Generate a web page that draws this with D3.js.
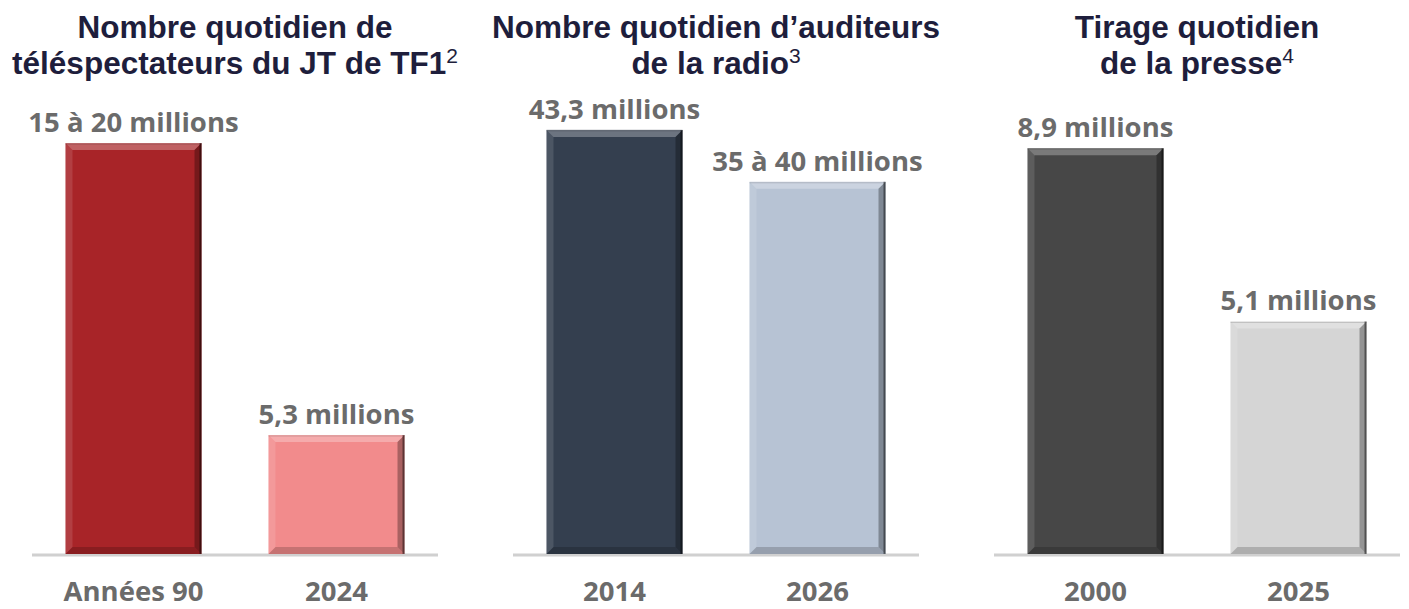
<!DOCTYPE html>
<html>
<head>
<meta charset="utf-8">
<script src="https://cdn.jsdelivr.net/npm/d3@7"></script>
<style>
  html, body { margin: 0; padding: 0; background: #ffffff; }
  svg { display: block; }
</style>
</head>
<body>
<svg id="chart" width="1409" height="609"></svg>
<script>
// ---- Data ----
const titleLines = [
  ["Nombre quotidien de", "téléspectateurs du JT de TF1"],
  ["Nombre quotidien d’auditeurs", "de la radio"],
  ["Tirage quotidien", "de la presse"]
];
const titleNotes = ["2", "3", "4"];
const categories = [
  ["Années 90", "2024"],
  ["2014", "2026"],
  ["2000", "2025"]
];
const values = [
  [18.3, 5.3],
  [43.3, 38.0],
  [8.9, 5.1]
];
const valueLabels = [
  ["15 à 20 millions", "5,3 millions"],
  ["43,3 millions", "35 à 40 millions"],
  ["8,9 millions", "5,1 millions"]
];
const yMax = [19.15, 43.9, 9.43];
const barColors = [
  ["#a82428", "#f28b8c"],
  ["#343f4f", "#b7c3d4"],
  ["#474747", "#d5d5d5"]
];

// ---- Layout ----
const svg = d3.select("#chart");
const panelLeft = [32, 513, 994];
const panelWidth = 406;
const baseY = 554;
const plotH = 430;
const titleColor = "#1e1e3c";
const labelColor = "#6b6b6b";
const bevel = 7;

panelLeft.forEach((px, i) => {
  const g = svg.append("g");
  const x = d3.scaleBand()
    .domain(categories[i])
    .range([px, px + panelWidth])
    .paddingInner(0.33)
    .paddingOuter(0.165);
  const y = d3.scaleLinear().domain([0, yMax[i]]).range([baseY, baseY - plotH]);
  const cx = px + panelWidth / 2;

  // Title
  const t = g.append("text")
    .attr("text-anchor", "middle")
    .attr("font-family", "'Liberation Sans', Arial, sans-serif")
    .attr("font-weight", "bold")
    .attr("font-size", 31.5)
    .attr("fill", titleColor);
  t.append("tspan").attr("x", cx).attr("y", 38).text(titleLines[i][0]);
  t.append("tspan").attr("x", cx).attr("y", 74).text(titleLines[i][1]);
  t.append("tspan")
    .attr("font-weight", "normal")
    .attr("font-size", 21)
    .attr("dy", -11)
    .text(titleNotes[i]);

  // Baseline
  g.append("line")
    .attr("x1", px).attr("x2", px + panelWidth)
    .attr("y1", y(0) + 1).attr("y2", y(0) + 1)
    .attr("stroke", "#d0d0d0").attr("stroke-width", 3);

  // Bars
  categories[i].forEach((c, j) => {
    const x0 = x(c), x1 = x(c) + x.bandwidth();
    const y0 = y(values[i][j]), y1 = y(0);
    const b = bevel;
    g.append("rect")
      .attr("x", x0).attr("y", y0)
      .attr("width", x1 - x0).attr("height", y1 - y0)
      .attr("fill", barColors[i][j]);
    const poly = (pts, fill, op) => g.append("polygon")
      .attr("points", pts.map(p => p.join(",")).join(" "))
      .attr("fill", fill).attr("fill-opacity", op);
    poly([[x0, y0], [x1, y0], [x1 - b, y0 + b], [x0 + b, y0 + b]], "#ffffff", 0.28);
    poly([[x0, y0], [x0 + b, y0 + b], [x0 + b, y1 - b], [x0, y1]], "#ffffff", 0.12);
    poly([[x1, y0], [x1, y1], [x1 - b, y1 - b], [x1 - b, y0 + b]], "#000000", 0.3);
    poly([[x0, y1], [x1, y1], [x1 - b, y1 - b], [x0 + b, y1 - b]], "#000000", 0.18);
    g.append("line")
      .attr("x1", x1 - 1).attr("x2", x1 - 1).attr("y1", y0).attr("y2", y1)
      .attr("stroke", "#000").attr("stroke-opacity", 0.45).attr("stroke-width", 2);
    g.append("line")
      .attr("x1", x0).attr("x2", x1).attr("y1", y0 + 1).attr("y2", y0 + 1)
      .attr("stroke", "#000").attr("stroke-opacity", 0.15).attr("stroke-width", 1);

    // Value label
    g.append("text")
      .attr("x", (x0 + x1) / 2)
      .attr("y", y0 - 11)
      .attr("text-anchor", "middle")
      .attr("font-family", "'Open Sans', sans-serif")
      .attr("font-weight", "bold")
      .attr("font-size", 27.5)
      .attr("fill", labelColor)
      .text(valueLabels[i][j]);

    // Category label
    g.append("text")
      .attr("x", (x0 + x1) / 2)
      .attr("y", 601)
      .attr("text-anchor", "middle")
      .attr("font-family", "'Open Sans', sans-serif")
      .attr("font-weight", "bold")
      .attr("font-size", 27.5)
      .attr("fill", labelColor)
      .text(c);
  });
});
</script>
</body>
</html>
